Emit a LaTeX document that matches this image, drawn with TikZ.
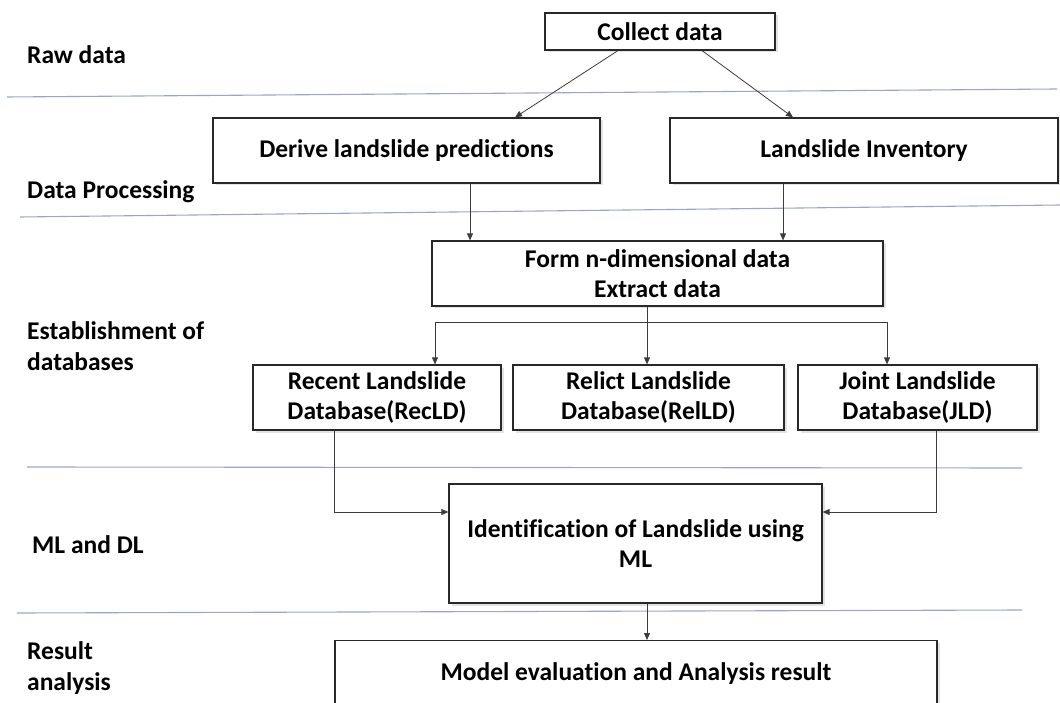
\documentclass[tikz,border=0pt]{standalone}
\usepackage{fontspec}
\setmainfont{Carlito}[Ligatures=CommonOff]
\usetikzlibrary{arrows.meta,shadows}
\definecolor{sepblue}{RGB}{150,166,205}
\definecolor{boxline}{RGB}{40,40,40}
\definecolor{arrline}{RGB}{60,60,60}
\tikzset{
  stepbox/.style={draw=boxline, line width=1.2pt, fill=white, inner sep=0pt, align=center,
    font=\fontsize{25.5}{30}\selectfont\bfseries,
    drop shadow={opacity=0.22, shadow xshift=2.5pt, shadow yshift=-2.5pt}},
  lanelabel/.style={anchor=west, inner sep=0pt, align=left, font=\fontsize{25.5}{31}\selectfont\bfseries},
  sepline/.style={draw=sepblue, line width=1.1pt},
  arr/.style={draw=arrline, line width=0.8pt, -{Triangle[length=7pt,width=6pt]}},
  plain/.style={draw=arrline, line width=0.8pt}
}
\begin{document}
\begin{tikzpicture}[x=1pt,y=-1pt]
\useasboundingbox (0,0) rectangle (1060,703);
% separators
\draw[sepline] (7,97) -- (1057,89);
\draw[sepline] (20,217) -- (1060,205);
\draw[sepline] (27,467) -- (1022,468);
\draw[sepline] (17,613) -- (1022,610);
% lane labels
\node[lanelabel] (lraw) at (27,55) {Raw data};
\node[lanelabel] (lproc) at (27,192) {Data Processing};
\node[lanelabel] (ldb) at (27,346) {Establishment of\\databases};
\node[lanelabel] (lml) at (32,545) {ML and DL};
\node[lanelabel] (lres) at (27,668) {Result\\analysis};
% boxes
\node[stepbox, minimum width=230pt, minimum height=37pt] (collect) at (660,31.5) {Collect data};
\node[stepbox, minimum width=387pt, minimum height=65pt] (derive) at (406.5,150.5) {Derive landslide predictions};
\node[stepbox, minimum width=388pt, minimum height=65pt] (inv) at (864,150.5) {Landslide Inventory};
\node[stepbox, minimum width=451pt, minimum height=65pt] (form) at (657.5,273.5) {Form n-dimensional data\\Extract data};
\node[stepbox, minimum width=248pt, minimum height=65pt] (recent) at (377,397.5) {Recent Landslide\\Database(RecLD)};
\node[stepbox, minimum width=271pt, minimum height=65pt] (relict) at (648.5,397.5) {Relict Landslide\\Database(RelLD)};
\node[stepbox, minimum width=239pt, minimum height=65pt] (joint) at (917.5,397.5) {Joint Landslide\\Database(JLD)};
\node[stepbox, minimum width=373pt, minimum height=119pt] (ident) at (635.5,543.5) {Identification of Landslide using\\ML};
\node[stepbox, anchor=north, minimum width=602pt, text height=40pt, text depth=40pt] (model) at (636,640) {Model evaluation and Analysis result};
% helper coordinates
\coordinate (xa) at (618,0);
\coordinate (xb) at (515,0);
\coordinate (xc) at (702,0);
\coordinate (xd) at (793,0);
\coordinate (xe) at (470,0);
\coordinate (xf) at (783,0);
\coordinate (xg) at (647,0);
\coordinate (xr) at (334,0);
\coordinate (xj) at (936,0);
\coordinate (yr) at (0,512);
\coordinate (fl) at (435,322);
\coordinate (fr) at (887,322);
% connectors
\draw[arr] (collect.south -| xa) -- (derive.north -| xb);
\draw[arr] (collect.south -| xc) -- (inv.north -| xd);
\draw[arr] (derive.south -| xe) -- (form.north -| xe);
\draw[arr] (inv.south -| xf) -- (form.north -| xf);
\draw[arr] (form.south -| xg) -- (relict.north -| xg);
\draw[plain] (fl) -- (fr);
\draw[arr] (fl) -- (recent.north -| fl);
\draw[arr] (fr) -- (joint.north -| fr);
\draw[arr] (recent.south -| xr) |- (ident.west |- yr);
\draw[arr] (joint.south -| xj) |- (ident.east |- yr);
\draw[arr] (ident.south -| xg) -- (model.north -| xg);
\end{tikzpicture}
\end{document}
